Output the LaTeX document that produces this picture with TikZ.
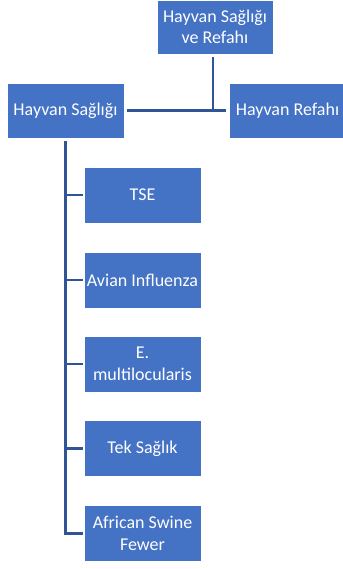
\documentclass[tikz,border=0pt]{standalone}
\usepackage{fontspec}
\setmainfont{Carlito}
\usetikzlibrary{calc}

\definecolor{kutumavi}{HTML}{4472C4}
\definecolor{hatmavi}{HTML}{2F5597}

\tikzset{
  kutu/.style={rectangle, fill=kutumavi, draw=white, line width=0.6pt, text=white,
    minimum width=117pt, minimum height=55pt, inner sep=0pt, align=center,
    font=\fontsize{18}{21.5}\selectfont},
  hat/.style={draw=hatmavi, line width=2.4pt}
}

\begin{document}
\begin{tikzpicture}[x=1pt, y=-1pt]
      \useasboundingbox (0,0) rectangle (342,569);

      \node[kutu, minimum width=116pt, minimum height=54pt] (ust) at (215, 27) {Hayvan Sağlığı\\ve Refahı};
      \node[kutu] (saglik) at (65.5, 110.5) {Hayvan Sağlığı};
      \node[kutu] (refah) at (287.5, 110.5) {Hayvan Refahı};

      \node[kutu, minimum height=56pt] (tse) at (142.5, 195) {TSE};
      \node[kutu, minimum height=56pt] (avian) at (142.5, 280) {Avian Influenza};
      \node[kutu, minimum height=56pt] (multi) at (142.5, 364) {E.\\multilocularis};
      \node[kutu, minimum height=56pt] (tek) at (142.5, 448.5) {Tek Sağlık};
      \node[kutu, minimum height=56pt] (asf) at (142.5, 533.5) {African Swine\\Fewer};

      \coordinate (ustalt) at ([xshift=-2pt, yshift=-3pt]ust.south);
      \draw[hat] (ustalt) -- (ustalt |- saglik.east);
      \draw[hat] ([xshift=3pt]saglik.east) -- ([xshift=-3pt]refah.west);

      \draw[hat] ([yshift=-3pt]saglik.south) -- (saglik.south |- asf.west) -- ([xshift=-1pt]asf.west);
      \foreach \n in {tse, avian, multi, tek}
        \draw[hat] (saglik.south |- \n.west) -- ([xshift=-1pt]\n.west);
    \end{tikzpicture}
\end{document}
